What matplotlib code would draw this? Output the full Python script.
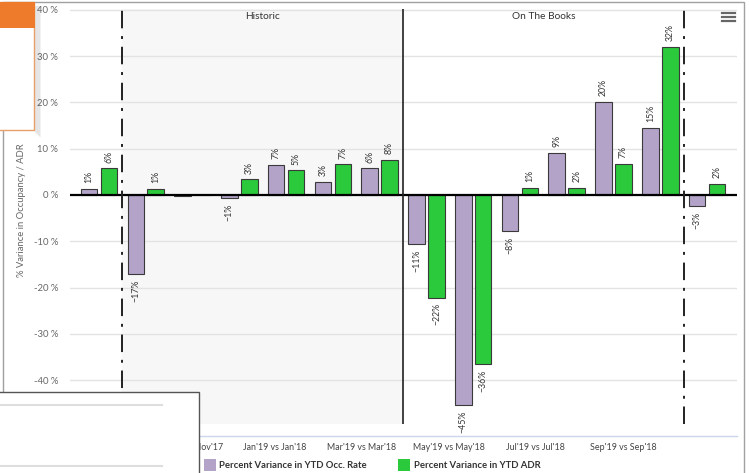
import numpy as np
import matplotlib
matplotlib.use("Agg")
import matplotlib.pyplot as plt
from matplotlib.patches import Rectangle
from matplotlib.lines import Line2D

plt.rcParams['font.family'] = ['Lato', 'DejaVu Sans']

# data
categories = ["Sep'18 vs Sep'17", "Oct'18 vs Oct'17", "Nov'18 vs Nov'17", "Dec'18 vs Dec'17",
              "Jan'19 vs Jan'18", "Feb'19 vs Feb'18", "Mar'19 vs Mar'18", "Apr'19 vs Apr'18",
              "May'19 vs May'18", "Jun'19 vs Jun'18", "Jul'19 vs Jul'18", "Aug'19 vs Aug'18",
              "Sep'19 vs Sep'18", "Oct'19 vs Oct'18"]
occ_rate = [1.3, -17.1, -0.3, -0.6, 6.5, 2.9, 5.8, -10.6, -45.5, -7.8, 9.1, 20.1, 14.5, -2.4]
adr = [5.8, 1.3, 0.0, 3.4, 5.3, 6.6, 7.6, -22.2, -36.5, 1.5, 1.5, 6.7, 32.0, 2.4]
occ_labels = ['1%', '-17%', '', '-1%', '7%', '3%', '6%', '-11%', '-45%', '-8%', '9%', '20%', '15%', '-3%']
adr_labels = ['6%', '1%', '', '3%', '5%', '7%', '8%', '-22%', '-36%', '1%', '2%', '7%', '32%', '2%']
sections = ['Historic', 'On The Books']
legend_names = ['Percent Variance in YTD Occ. Rate', 'Percent Variance in YTD ADR']

W, H = 749, 473
PURPLE = '#b3a3c9'
GREEN = '#2bc93c'


def fx(px):
    return px / W


def fy(py):
    return 1 - py / H


fig = plt.figure(figsize=(W / 100, H / 100), dpi=100)
fig.patch.set_facecolor('white')
ax = fig.add_axes([fx(70), fy(424), fx(737) - fx(70), fy(9) - fy(424)])
ax.set_facecolor('white')

x = np.arange(len(categories))
bw = 0.355
off = 0.213

ax.axvspan(0.5, 6.5, color='#f7f7f7', zorder=0)
for yv in range(-40, 41, 10):
    if yv != 0:
        ax.axhline(yv, color='#e3e3e3', lw=1, zorder=1)

ax.bar(x - off, occ_rate, bw, color=PURPLE, edgecolor='#3a3a3a', lw=0.8, zorder=3)
ax.bar(x + off, adr, bw, color=GREEN, edgecolor='#3a3a3a', lw=0.8, zorder=3)

ax.axhline(0, color='black', lw=1.6, zorder=4)
ax.axvline(0.5, color='#222', lw=1.4, ls=(0, (9, 4, 1.5, 4)), zorder=4)
ax.axvline(12.5, color='#222', lw=1.4, ls=(0, (9, 4, 1.5, 4)), zorder=4)
ax.axvline(6.5, color='#222', lw=1.2, zorder=4)

for vals, labs, sign in ((occ_rate, occ_labels, -1), (adr, adr_labels, 1)):
    for xi, v, lab in zip(x, vals, labs):
        if not lab:
            continue
        xp = xi + sign * off
        if v >= 0:
            ax.annotate(lab, (xp, v), xytext=(0, 4), textcoords='offset points',
                        rotation=90, ha='center', va='bottom', fontsize=6.3, color='#333')
        else:
            ax.annotate(lab.replace('-', '\u2212'), (xp, v), xytext=(0, -4), textcoords='offset points',
                        rotation=90, ha='center', va='top', fontsize=6.3, color='#333')

ax.set_xlim(-0.62, 13.64)
ax.set_ylim(-49.5, 40.2)
ax.set_yticks(range(-40, 41, 10))
ax.set_yticklabels([f'{v} %' for v in range(-40, 41, 10)], fontsize=6.8, color='#666')
ax.tick_params(axis='y', length=0, pad=8.5)
ax.set_xticks([])
for s in ax.spines.values():
    s.set_visible(False)

ax.text(3.5, 38.6, sections[0], ha='center', va='center', fontsize=7.3, color='#333')
ax.text(9.5, 38.6, sections[1], ha='center', va='center', fontsize=7.3, color='#333')

fig.text(fx(22), fy(210), '% Variance in Occupancy / ADR', rotation=90, ha='center', va='center',
         fontsize=6.8, color='#666')

# x axis line sits below the plot (offset axis in the original)
fig.add_artist(Line2D([fx(70), fx(737)], [fy(436), fy(436)], color='#ccd6eb', lw=1))
# the original's labels drift left of the category centres
for i in range(2, len(categories), 2):
    pos = i * 0.93 + 0.04
    px = 99 + pos * 46.77
    fig.text(fx(px), fy(447), categories[i], ha='center', va='center', fontsize=6.4, color='#444')

# legend
fig.add_artist(Rectangle((fx(204), fy(471)), fx(12), fy(459) - fy(471), transform=fig.transFigure,
                         facecolor=PURPLE, edgecolor='none'))
fig.text(fx(219), fy(465), legend_names[0], ha='left', va='center', fontsize=6.85, weight='bold', color='#333')
fig.add_artist(Rectangle((fx(398), fy(471)), fx(12), fy(459) - fy(471), transform=fig.transFigure,
                         facecolor=GREEN, edgecolor='none'))
fig.text(fx(414), fy(465), legend_names[1], ha='left', va='center', fontsize=6.85, weight='bold', color='#333')

# hamburger menu
for yy in (13, 17, 21):
    fig.add_artist(Line2D([fx(722), fx(735)], [fy(yy), fy(yy)], color='#666', lw=1.6))

# container border
fig.add_artist(Rectangle((fx(3), fy(478)), fx(744) - fx(3), fy(2) - fy(478), transform=fig.transFigure,
                         facecolor='none', edgecolor='#a0a0a0', lw=1))

# overlay popups from the screenshot, drawn on top of everything
for k in range(6):
    fig.add_artist(Rectangle((fx(34 + k), fy(132 + k)), fx(2), fy(6) - fy(132 + k), transform=fig.transFigure,
                             facecolor='#000', alpha=0.05, edgecolor='none', zorder=10))
fig.add_artist(Rectangle((fx(-2), fy(130)), fx(36), fy(2) - fy(130), transform=fig.transFigure,
                         facecolor='white', edgecolor='#e8a06a', lw=1, zorder=10))
fig.add_artist(Rectangle((fx(-2), fy(28)), fx(37), fy(2) - fy(28), transform=fig.transFigure,
                         facecolor='#ee7b2b', edgecolor='none', zorder=11))

fig.add_artist(Rectangle((fx(-2), fy(476)), fx(201), fy(392) - fy(476), transform=fig.transFigure,
                         facecolor='white', edgecolor='#555', lw=1, zorder=10))
for yy in (405, 466):
    fig.add_artist(Line2D([fx(0), fx(162)], [fy(yy), fy(yy)], color='#dedede', lw=1.5, zorder=11))

fig.savefig('out.png', dpi=100)
